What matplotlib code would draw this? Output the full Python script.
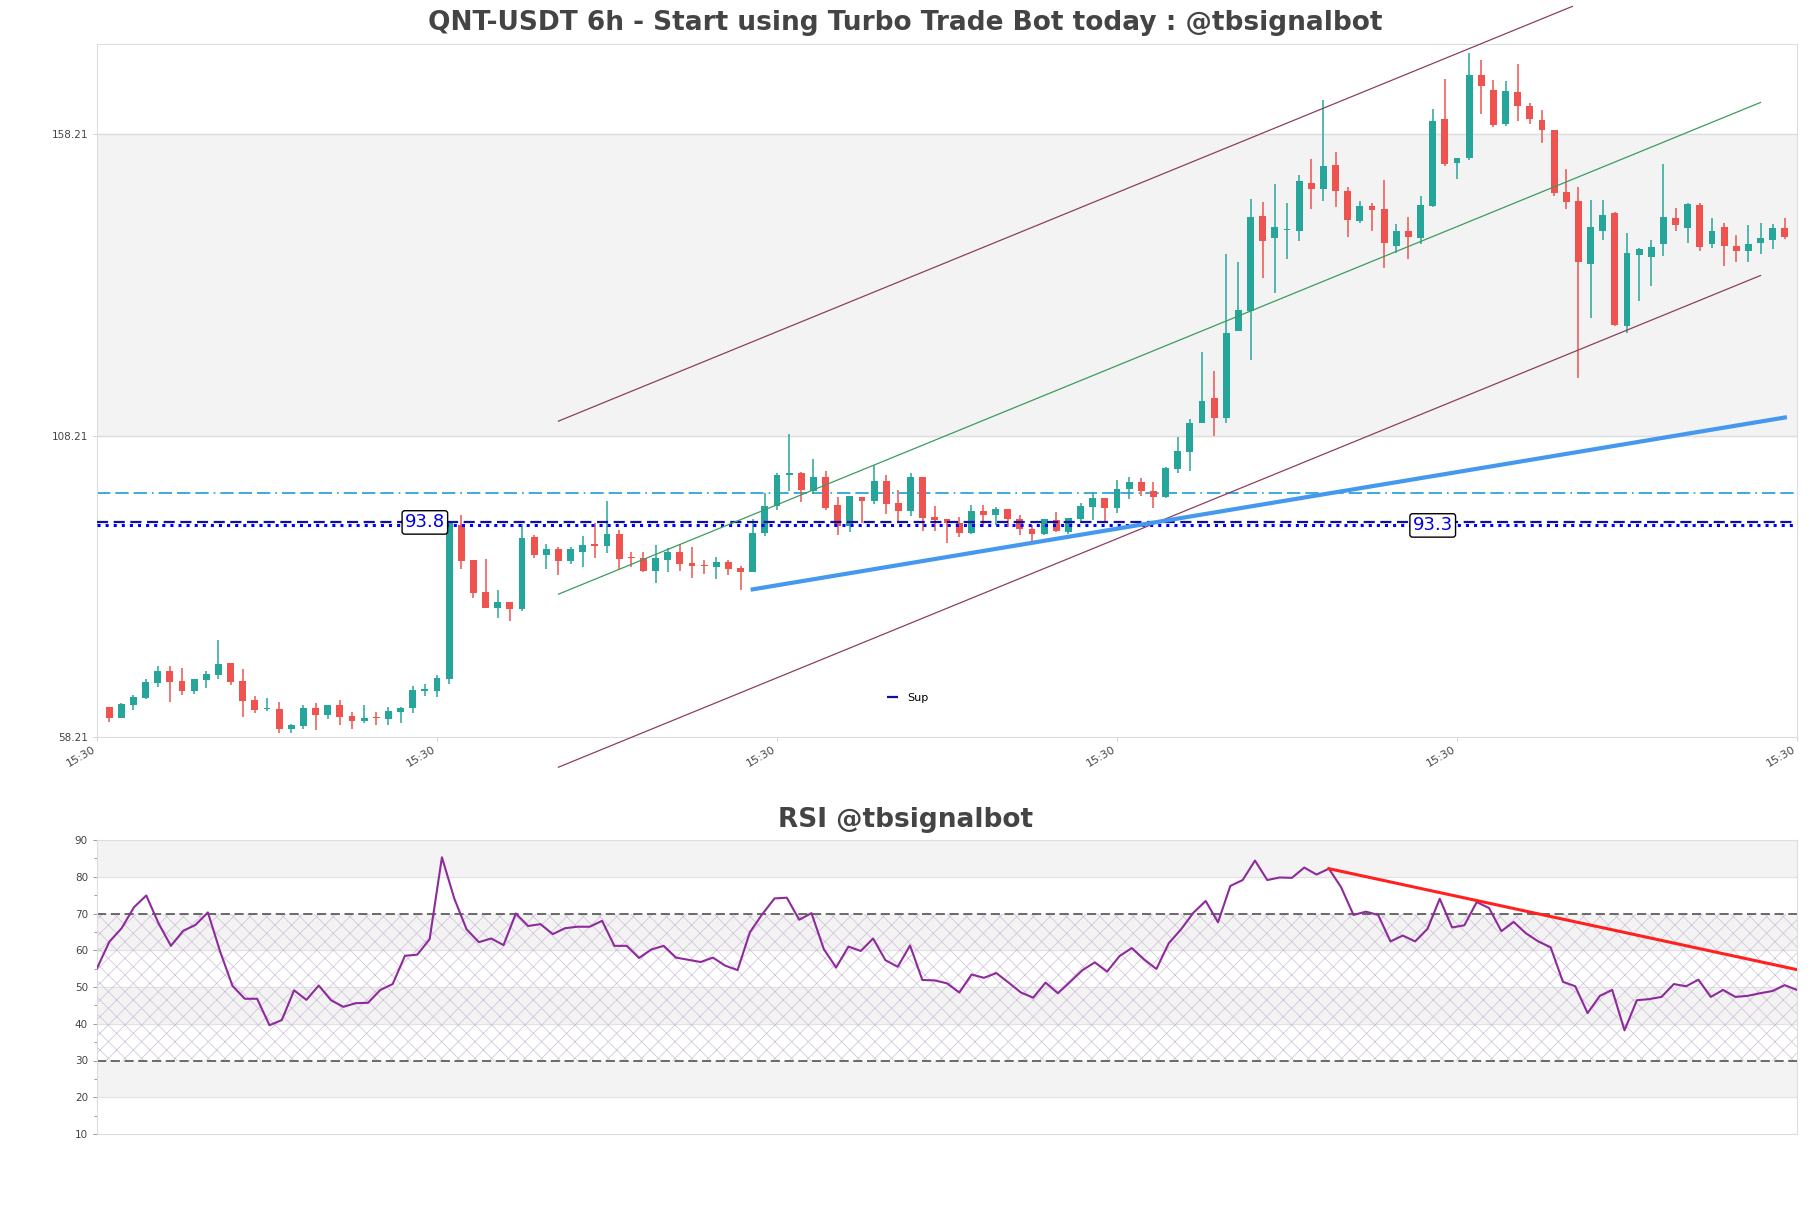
import numpy as np
import matplotlib
matplotlib.use("Agg")
import matplotlib.pyplot as plt
from matplotlib.ticker import MultipleLocator

# candles (6h)
opens = [63.18, 61.41, 63.57, 64.73, 67.22, 69.15, 67.49, 65.89, 67.66, 68.54,
         70.48, 67.49, 64.34, 62.80, 62.85, 59.59, 60.03, 63.02, 61.86, 63.51,
         61.69, 60.86, 61.41, 61.19, 62.41, 63.02, 65.89, 65.89, 67.83, 93.36,
         87.56, 82.25, 79.65, 80.59, 79.43, 91.43, 88.45, 89.39, 87.45, 88.94,
         90.05, 89.94, 91.82, 87.95, 87.89, 85.79, 87.62, 88.89, 87.01, 86.68,
         86.46, 87.18, 86.24, 85.63, 92.04, 96.52, 101.66, 102.05, 99.00, 101.33,
         96.63, 93.26, 97.96, 97.40, 100.66, 97.02, 95.74, 101.33, 94.64, 94.36,
         93.65, 92.10, 95.69, 95.08, 96.02, 94.36, 92.76, 91.82, 94.25, 92.26,
         94.42, 96.41, 97.79, 96.24, 99.39, 100.55, 99.06, 97.96, 102.66, 105.48,
         110.34, 114.38, 111.06, 125.60, 128.86, 144.61, 141.02, 142.29, 142.18, 150.03,
         149.15, 153.07, 148.76, 143.84, 146.33, 145.77, 139.69, 142.13, 140.96, 146.33,
         160.64, 153.35, 154.23, 167.99, 165.51, 159.87, 165.23, 162.91, 160.53, 158.87,
         148.54, 147.10, 136.65, 142.18, 145.17, 126.37, 138.15, 137.87, 139.97, 144.23,
         142.68, 146.44, 139.91, 142.73, 139.69, 138.86, 140.08, 140.63, 142.57]
closes = [61.41, 63.73, 64.84, 67.33, 69.15, 67.38, 65.89, 67.77, 68.65, 70.31,
          67.33, 64.23, 62.69, 62.85, 59.59, 60.14, 63.02, 61.91, 63.51, 61.58,
          60.92, 61.36, 61.30, 62.52, 63.07, 66.00, 66.22, 67.99, 93.64, 87.39,
          82.14, 79.65, 80.59, 79.49, 91.21, 88.45, 89.39, 87.45, 89.39, 89.99,
          89.94, 91.82, 87.78, 87.84, 85.74, 87.89, 88.89, 86.96, 86.62, 86.57,
          87.23, 86.13, 85.63, 91.99, 96.52, 101.66, 102.05, 99.17, 101.27, 96.24,
          93.26, 98.12, 97.40, 100.66, 96.90, 95.74, 101.33, 94.58, 94.25, 93.64,
          92.10, 95.69, 95.08, 96.08, 94.42, 92.65, 91.82, 94.42, 92.37, 94.53,
          96.52, 97.79, 96.24, 99.28, 100.55, 99.06, 97.96, 102.77, 105.59, 110.23,
          113.93, 111.17, 125.15, 128.97, 144.39, 140.52, 142.73, 142.51, 150.42, 149.04,
          152.90, 148.81, 143.95, 146.27, 145.61, 140.08, 142.13, 141.08, 146.44, 160.37,
          153.24, 154.23, 167.99, 166.23, 159.70, 165.34, 162.91, 160.70, 158.87, 148.37,
          146.99, 137.04, 142.73, 144.78, 126.54, 138.42, 139.08, 139.53, 144.39, 143.12,
          146.60, 139.53, 142.13, 139.69, 138.86, 139.91, 140.91, 142.57, 141.08]
highs = [63.20, 63.84, 65.17, 67.77, 69.98, 69.98, 69.65, 67.80, 69.10, 74.29,
         70.50, 69.48, 65.00, 64.67, 64.01, 60.36, 63.57, 63.84, 63.50, 64.34,
         62.35, 63.51, 62.35, 63.13, 63.24, 66.66, 67.00, 68.49, 93.92, 95.02,
         87.60, 87.73, 82.58, 80.60, 93.53, 91.71, 90.22, 89.72, 89.72, 91.49,
         93.75, 97.35, 92.54, 88.83, 88.83, 90.00, 89.55, 90.22, 89.72, 87.62,
         88.06, 87.56, 86.57, 94.31, 98.67, 102.05, 108.46, 102.10, 104.26, 102.32,
         97.96, 98.12, 98.00, 103.32, 101.66, 99.12, 101.94, 101.33, 96.52, 94.40,
         94.75, 96.69, 96.69, 96.35, 96.02, 95.03, 93.37, 94.42, 95.58, 94.53,
         97.07, 98.62, 97.80, 100.83, 101.27, 101.11, 100.55, 103.04, 108.02, 110.95,
         122.11, 118.91, 138.26, 137.04, 147.38, 146.88, 149.86, 146.71, 151.41, 154.07,
         163.85, 155.17, 149.48, 147.04, 146.71, 150.58, 143.29, 144.50, 147.93, 162.36,
         167.33, 154.23, 171.59, 170.48, 167.17, 167.00, 169.82, 163.30, 162.19, 158.87,
         152.41, 149.48, 147.27, 147.27, 145.33, 141.85, 139.36, 140.63, 153.24, 145.88,
         146.82, 146.71, 144.23, 143.51, 141.46, 143.12, 143.40, 143.29, 144.23]
lows = [60.75, 61.41, 62.74, 64.45, 66.55, 64.07, 65.17, 65.39, 66.39, 67.88,
        66.78, 61.58, 62.13, 62.57, 58.82, 58.93, 59.48, 59.37, 61.19, 60.20,
        59.59, 60.47, 60.14, 60.25, 60.58, 62.13, 65.06, 64.90, 67.00, 86.12,
        81.31, 79.60, 78.00, 77.50, 79.16, 87.84, 86.02, 85.08, 86.84, 86.46,
        87.95, 88.67, 86.13, 86.46, 85.57, 83.80, 85.52, 85.79, 84.63, 85.24,
        84.47, 85.02, 82.64, 85.60, 91.60, 95.80, 99.06, 97.18, 98.45, 95.85,
        91.71, 92.26, 93.64, 96.79, 95.14, 93.75, 94.92, 92.43, 92.43, 90.40,
        91.43, 91.88, 93.09, 93.37, 92.98, 91.71, 90.77, 91.71, 92.15, 91.88,
        93.65, 94.20, 94.09, 95.41, 97.63, 98.18, 96.13, 97.79, 101.94, 102.38,
        110.23, 108.13, 110.34, 125.60, 120.73, 134.33, 131.90, 137.54, 140.52, 145.72,
        147.16, 146.16, 141.08, 143.40, 142.18, 136.04, 138.42, 137.48, 139.97, 146.05,
        152.90, 150.75, 153.90, 161.53, 159.32, 159.59, 160.37, 159.81, 156.77, 147.93,
        145.77, 117.80, 127.75, 140.63, 126.37, 125.27, 130.52, 133.00, 137.98, 142.18,
        140.19, 138.81, 139.36, 136.38, 137.04, 136.93, 138.31, 139.14, 140.80]

rsi = [55.1, 62.3, 66.0, 71.7, 74.9, 67.3, 61.2, 65.3, 66.9, 70.3,
       59.6, 50.3, 46.8, 46.8, 39.6, 41.0, 49.1, 46.5, 50.4, 46.4,
       44.6, 45.6, 45.7, 49.2, 50.8, 58.5, 58.8, 63.0, 85.3, 74.1,
       65.7, 62.2, 63.2, 61.4, 70.0, 66.6, 67.1, 64.4, 66.0, 66.4,
       66.4, 68.0, 61.2, 61.2, 57.9, 60.2, 61.2, 58.0, 57.4, 56.8,
       58.0, 55.8, 54.6, 64.9, 69.8, 74.1, 74.3, 68.3, 70.1, 60.3,
       55.3, 61.0, 59.8, 63.2, 57.3, 55.5, 61.3, 51.9, 51.8, 51.0,
       48.5, 53.4, 52.5, 53.8, 51.2, 48.5, 47.1, 51.2, 48.3, 51.4,
       54.6, 56.7, 54.2, 58.4, 60.6, 57.5, 54.9, 61.9, 65.7, 70.2,
       73.4, 67.6, 77.5, 79.1, 84.4, 79.1, 79.8, 79.7, 82.5, 80.6,
       82.2, 77.1, 69.6, 70.5, 69.6, 62.4, 64.0, 62.4, 65.8, 74.0,
       66.2, 66.8, 73.1, 71.5, 65.2, 67.7, 64.6, 62.4, 60.8, 51.4,
       50.2, 42.9, 47.6, 49.2, 38.2, 46.4, 46.7, 47.3, 50.8, 50.2,
       52.0, 47.3, 49.2, 47.3, 47.6, 48.3, 48.9, 50.5, 49.2]

# levels and trend lines
sup_a = 93.8
sup_b = 93.3
res_level = 98.67
chan_x = [37, 136]
chan_mid = [81.9, 163.46]
chan_off = 28.7
upper_end = 120.5   # upper channel line stops at the top of the picture
sup_x = [53, 138]
sup_y = [82.7, 111.2]
rsi_tx = [100, 139]
rsi_ty = [82.2, 54.0]

xtick_pos = [-1, 27, 55, 83, 111, 139]
xtick_lab = ["15:30"] * 6
ytick_pos = [58.21, 108.21, 158.21]

plt.rcParams["hatch.linewidth"] = 0.5
plt.rcParams["hatch.color"] = "#cdbfd8"

fig = plt.figure(figsize=(18.11, 12.08), dpi=100)
ax = fig.add_axes([97 / 1811, 1 - 737 / 1208, 1700 / 1811, 693 / 1208])
ax2 = fig.add_axes([97 / 1811, 1 - 1134 / 1208, 1700 / 1811, 294 / 1208])

x = np.arange(len(opens))
o = np.array(opens)
c = np.array(closes)
up = c >= o
col = np.where(up, "#26a69a", "#ef5350")

# price panel
ax.axhspan(108.21, 158.21, color="#f3f3f3", zorder=0)
for yv in ytick_pos[1:]:
    ax.axhline(yv, color="#dddddd", lw=1, zorder=0.5)
ax.vlines(x, lows, highs, color=col, lw=1.1, zorder=3)
ax.bar(x, np.maximum(np.abs(c - o), 0.25), bottom=np.minimum(o, c), width=0.56,
       color=col, zorder=4)

ax.axhline(res_level, color="#1e9bd7", lw=1.2, ls=(0, (8, 3, 8, 3, 8, 3, 1, 3)), zorder=2)
sup_line, = ax.plot([-1, 139], [sup_a, sup_a], color="#1010a0", lw=1.6,
                    ls=(0, (5, 2.5)), label="Sup", zorder=5)
ax.plot([-1, 139], [sup_b, sup_b], color="#0000ff", lw=2.2, ls=":", zorder=5)

mid = np.array(chan_mid)
ax.plot(chan_x, mid, color="#3a9d5d", lw=0.9, zorder=6)
up_x = [chan_x[0], upper_end]
up_y = np.interp(up_x, chan_x, mid) + chan_off
ax.plot(up_x, up_y, color="#8b4060", lw=0.9, zorder=6, clip_on=False)
ax.plot(chan_x, mid - chan_off, color="#8b4060", lw=0.9, zorder=6, clip_on=False)
ax.plot(sup_x, sup_y, color="#4499ee", lw=3, zorder=6)

ax.text(26, sup_a, "93.8", color="#0000dd", fontsize=13, ha="center", va="center", zorder=7,
        bbox=dict(boxstyle="round,pad=0.15", fc="white", ec="black", lw=1))
ax.text(109, sup_b, "93.3", color="#0000dd", fontsize=13, ha="center", va="center", zorder=7,
        bbox=dict(boxstyle="round,pad=0.15", fc="white", ec="black", lw=1))

ax.legend(handles=[sup_line], loc="lower left", bbox_to_anchor=(0.459, 0.035),
          frameon=False, fontsize=8, handlelength=1.0, handletextpad=0.8)

ax.set_xlim(-1, 139)
ax.set_ylim(58.21, 173.15)
ax.set_yticks(ytick_pos)
ax.set_yticklabels(["58.21", "108.21", "158.21"])
ax.set_xticks(xtick_pos)
ax.set_xticklabels(xtick_lab, rotation=30, ha="right")
ax.tick_params(axis="both", labelsize=7.5, colors="#444444", length=3, width=0.6)
ax.tick_params(axis="x", labelsize=8, pad=2)
ax.tick_params(axis="both", color="#cccccc")
for s in ax.spines.values():
    s.set_color("#dddddd")

# rsi panel
for lo, hi in [(20, 30), (40, 50), (60, 70), (80, 90)]:
    ax2.axhspan(lo, hi, color="#f3f3f3", zorder=0)
for yv in [20, 40, 50, 60, 80]:
    ax2.axhline(yv, color="#e2e2e2", lw=0.8, zorder=0.5)
ax2.axhspan(30, 70, facecolor="none", hatch="xx", edgecolor="#cdbfd8", lw=0, zorder=1)
ax2.axhline(70, color="#444444", lw=1.1, ls=(0, (6, 3)), zorder=2)
ax2.axhline(30, color="#444444", lw=1.1, ls=(0, (6, 3)), zorder=2)
ax2.plot(np.arange(len(rsi)), rsi, color="#8e2a9c", lw=1.5, zorder=3)
ax2.plot(rsi_tx, rsi_ty, color="#ff2020", lw=2.2, zorder=4)

ax2.set_xlim(0, len(rsi) - 1)
ax2.set_ylim(10, 90)
ax2.yaxis.set_major_locator(MultipleLocator(10))
ax2.yaxis.set_minor_locator(MultipleLocator(5))
ax2.set_xticks([])
ax2.tick_params(axis="y", which="major", labelsize=7.5, colors="#444444", length=3, width=0.6)
ax2.tick_params(axis="y", which="minor", length=2, width=0.6, color="#888888")
ax2.tick_params(axis="y", which="major", color="#888888")
for s in ax2.spines.values():
    s.set_color("#dddddd")

fig.text(0.5, 1 - 23 / 1208, "QNT-USDT 6h - Start using Turbo Trade Bot today : @tbsignalbot",
         ha="center", va="center", fontsize=19, fontweight="bold", color="#444444")
fig.text(0.5, 1 - 820 / 1208, "RSI @tbsignalbot",
         ha="center", va="center", fontsize=19, fontweight="bold", color="#444444")

fig.savefig("out.png", dpi=100, facecolor="white")
